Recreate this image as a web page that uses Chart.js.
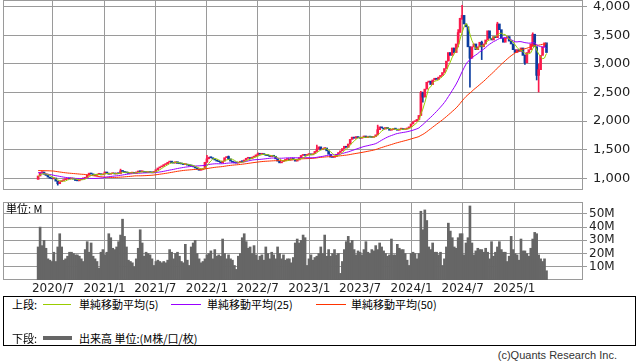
<!DOCTYPE html>
<html lang="ja">
<head>
<meta charset="utf-8">
<title>株価チャート</title>
<script src="https://cdn.jsdelivr.net/npm/chart.js@4.4.1/dist/chart.umd.min.js"></script>
<style>
  body { margin: 0; width: 638px; height: 362px; background: #fff; position: relative; overflow: hidden; font-family: "Noto Sans CJK JP", sans-serif; color: #000; }
  #price-wrap { position: absolute; left: 0; top: 0; width: 638px; height: 195px; }
  #volume-wrap { position: absolute; left: 0; top: 196px; width: 638px; height: 100px; }
  .unit { position: absolute; left: 6px; top: 202px; font-size: 11px; line-height: 12px; }
  .legend { position: absolute; left: 3px; top: 296px; width: 631px; height: 48px; border: 1px solid #000; font-size: 11px; }
  .legend span { position: absolute; line-height: 14px; white-space: nowrap; }
  .legend i { position: absolute; display: block; }
  .copy { position: absolute; right: 21px; top: 349px; font: 11px "Liberation Sans", sans-serif; color: #333; }
</style>
</head>
<body>
<div id="price-wrap"><canvas id="price-chart"></canvas></div>
<div id="volume-wrap"><canvas id="volume-chart"></canvas></div>
<div class="unit">単位: M</div>
<div class="legend">
  <span style="left:8px;top:0">上段:</span>
  <i style="left:39px;top:7px;width:28px;height:1px;background:#99cc00"></i>
  <span style="left:75px;top:0">単純移動平均(5)</span>
  <i style="left:167px;top:7px;width:30px;height:1px;background:#9900ff"></i>
  <span style="left:203px;top:0">単純移動平均(25)</span>
  <i style="left:312px;top:7px;width:30px;height:1px;background:#ff3300"></i>
  <span style="left:347px;top:0">単純移動平均(50)</span>
  <span style="left:8px;top:34px">下段:</span>
  <i style="left:39px;top:39px;width:29px;height:4px;background:#666"></i>
  <span style="left:75px;top:34px">出来高 単位:(M株/口/枚)</span>
</div>
<div class="copy">(c)Quants Research Inc.</div>

<script>
// weekly candles, index 0 = week of 2020/5/11
const tickLabels = ["2020/7", "2021/1", "2021/7", "2022/1", "2022/7", "2023/1", "2023/7", "2024/1", "2024/7", "2025/1"];
const priceTicks = [1000, 1500, 2000, 2500, 3000, 3500, 4000];
const volumeTicks = [10, 20, 30, 40, 50];

const firstOpen = 980;
const closes = [
    1040, 1100, 1110, 1070, 1050, 1020, 1000, 990, 1005, 950,
    905, 940, 960, 975, 985, 995, 990, 1000, 985, 960,
    955, 975, 990, 1000, 1010, 1060, 1090, 1075, 1060, 1050,
    1070, 1080, 1060, 1075, 1110, 1090, 1070, 1080, 1085, 1075,
    1090, 1080, 1130, 1120, 1100, 1095, 1085, 1090, 1100, 1085,
    1110, 1125, 1115, 1120, 1105, 1100, 1110, 1100, 1095, 1120,
    1150, 1180, 1200, 1210, 1240, 1250, 1280, 1300, 1270, 1265,
    1290, 1260, 1255, 1250, 1240, 1245, 1230, 1220, 1215, 1200,
    1180, 1160, 1140, 1150, 1170, 1280, 1340, 1370, 1360, 1340,
    1320, 1300, 1290, 1270, 1300, 1360, 1380, 1340, 1300, 1280,
    1270, 1265, 1280, 1295, 1290, 1320, 1350, 1360, 1345, 1370,
    1380, 1410, 1430, 1420, 1425, 1415, 1400, 1395, 1380, 1390,
    1385, 1340, 1300, 1270, 1290, 1310, 1330, 1340, 1320, 1345,
    1330, 1300, 1320, 1360, 1400, 1410, 1400, 1415, 1420, 1410,
    1430, 1470, 1510, 1550, 1500, 1520, 1530, 1480, 1420, 1370,
    1365, 1380, 1420, 1450, 1480, 1520, 1560, 1540, 1600, 1680,
    1720, 1700, 1730, 1710, 1700, 1720, 1740, 1710, 1730, 1720,
    1715, 1730, 1760, 1850, 1900, 1880, 1860, 1890, 1870, 1840,
    1850, 1870, 1860, 1840, 1860, 1870, 1850, 1860, 1880, 1900,
    1950, 1990, 2000, 2030, 2100, 2500, 2420, 2560, 2680, 2700,
    2640, 2720, 2750, 2730, 2770, 2800, 2850, 2920, 3050, 3200,
    3150, 3280, 3200, 3350, 3550, 3800, 3850, 3700, 3650, 3300,
    3100, 3300, 3350, 3250, 3300, 3380, 3300, 3350, 3420, 3580,
    3450, 3420, 3480, 3460, 3700, 3600, 3450, 3380, 3450, 3480,
    3400, 3350, 3250, 3200, 3250, 3220, 3280, 3150, 3020, 3200,
    3250, 3350, 3520, 3300, 2800, 2900, 3150, 3300, 3370, 3200
];

// long shadows only: [week, low, high]
const wicks = [
    [10, 880, 950], [42, 1100, 1160], [86, 1280, 1400], [97, 1330, 1390],
    [112, 1400, 1445], [142, 1470, 1580], [173, 1760, 1930], [195, 2100, 2520],
    [196, 2330, 2510], [214, 3300, 3600], [216, 3780, 4024], [220, 2596, 3300],
    [226, 3076, 3400], [234, 3460, 3730], [248, 2990, 3160], [252, 3310, 3545],
    [254, 2720, 3300], [255, 2510, 3000]
];

// volume, M shares
const volumes = [
    25, 40, 26, 30, 24, 16, 15, 14, 21, 14,
    25, 35, 25, 15, 16, 18, 21, 21, 20, 19,
    19, 18, 16, 14, 23, 29, 21, 28, 18, 16,
    14, 9, 21, 23, 19, 21, 35, 32, 24, 23,
    25, 29, 34, 46, 33, 25, 15, 14, 13, 10,
    16, 24, 38, 28, 18, 21, 20, 19, 16, 11,
    14, 15, 14, 13, 14, 13, 15, 23, 21, 16,
    20, 21, 18, 14, 13, 27, 15, 11, 25, 28,
    30, 20, 16, 13, 14, 16, 19, 20, 22, 16,
    23, 18, 19, 18, 31, 20, 16, 19, 16, 15,
    11, 8, 18, 20, 32, 35, 29, 24, 25, 20,
    26, 19, 15, 18, 19, 15, 25, 20, 16, 21,
    19, 16, 25, 20, 16, 19, 15, 16, 16, 13,
    17, 28, 31, 28, 30, 34, 32, 11, 16, 19,
    15, 17, 18, 20, 25, 20, 34, 18, 23, 18,
    20, 23, 19, 20, 5, 14, 23, 29, 33, 28,
    30, 23, 19, 22, 21, 19, 23, 29, 21, 20,
    23, 22, 26, 23, 28, 25, 22, 20, 18, 19,
    31, 19, 19, 27, 24, 23, 23, 20, 15, 11,
    20, 21, 20, 16, 20, 52, 38, 53, 45, 25,
    23, 28, 21, 21, 19, 21, 11, 16, 25, 43,
    37, 32, 25, 24, 32, 35, 35, 19, 28, 32,
    56, 28, 19, 22, 24, 23, 23, 21, 24, 21,
    16, 29, 18, 21, 25, 29, 23, 21, 21, 14,
    18, 33, 23, 20, 19, 15, 31, 22, 22, 20,
    18, 24, 31, 36, 35, 19, 16, 14, 16, 7
];

// averages before enough weeks are on the chart
const ma5Start = [1030, 1060, 1075, 1080];
const ma25Start = [1100, 1095, 1090, 1085, 1080, 1072, 1065, 1060, 1052, 1045, 1040, 1033,
    1027, 1020, 1015, 1010, 1005, 1002, 1000, 998, 997, 996, 996, 997];
const ma50Start = [1135, 1135, 1134, 1133, 1132, 1131, 1130, 1128, 1126, 1120, 1115, 1110,
    1105, 1100, 1096, 1092, 1089, 1086, 1083, 1080, 1077, 1074, 1071, 1069, 1066, 1060,
    1055, 1050, 1045, 1040, 1035, 1030, 1027, 1024, 1020, 1018, 1016, 1015, 1015, 1015,
    1016, 1018, 1020, 1022, 1025, 1028, 1031, 1034, 1037];

const UP = "#fb1a4c";
const DOWN = "#0b3ca0";
const GRID = "#9a9a9a";
const X_MIN = -17.9;
const X_MAX = 277.6;
const weekMs = 7 * 864e5;
const week0 = Date.UTC(2020, 4, 9);

Chart.defaults.font.family = "DejaVu Sans";
Chart.defaults.color = "#222";

const opens = closes.map((c, i) => i === 0 ? firstOpen : closes[i - 1]);

function movingAverage(values, period, head) {
    return values.map((v, i) => {
        if (i < period - 1) return head[i];
        let sum = 0;
        for (let k = i - period + 1; k <= i; k++) sum += values[k];
        return sum / period;
    });
}

// gridline positions at the first day of each labelled month
const monthTicks = tickLabels.map(t => {
    const [y, m] = t.split("/").map(Number);
    return (Date.UTC(y, m - 1, 1) - week0) / weekMs;
});

const frame = {
    id: "frame",
    beforeDatasetsDraw(chart) {
        const { ctx, chartArea: a } = chart;
        ctx.save();
        ctx.strokeStyle = GRID;
        ctx.lineWidth = 1;
        ctx.strokeRect(Math.round(a.left) + 0.5, Math.round(a.top) + 0.5,
            Math.round(a.right - a.left) - 1, Math.round(a.bottom - a.top) - 1);
        ctx.restore();
    }
};

// keep the plot area fixed, labels may hang over its edges
const noPadding = s => {
    s.paddingTop = 0;
    s.paddingBottom = 0;
    s.paddingLeft = 0;
    s.paddingRight = 0;
};

function xAxis(showLabels) {
    return {
        type: "linear",
        min: X_MIN,
        max: X_MAX,
        offset: false,
        afterBuildTicks: s => { s.ticks = monthTicks.map(v => ({ value: v })); },
        afterFit: s => {
            s.height = showLabels ? 16 : 0;
            noPadding(s);
        },
        ticks: {
            display: showLabels,
            autoSkip: false,
            maxRotation: 0,
            padding: 2,
            font: { size: 12 },
            callback: (v, i) => tickLabels[i]
        },
        grid: { color: GRID, drawTicks: false, offset: false },
        border: { display: false }
    };
}

const candleColor = c => {
    const i = c.dataIndex;
    return closes[i] >= opens[i] ? UP : DOWN;
};
const maLine = (label, data, color) => ({
    type: "line",
    label,
    data: data.map((y, x) => ({ x, y })),
    borderColor: color,
    borderWidth: 1,
    pointRadius: 0,
    tension: 0,
    order: 0
});

const priceChart = new Chart(document.getElementById("price-chart"), {
    type: "bar",
    data: {
        datasets: [
            maLine("単純移動平均(5)", movingAverage(closes, 5, ma5Start), "#99cc00"),
            maLine("単純移動平均(25)", movingAverage(closes, 25, ma25Start), "#9900ff"),
            maLine("単純移動平均(50)", movingAverage(closes, 50, ma50Start), "#ff3300"),
            {
                label: "body",
                data: closes.map((c, i) => ({ x: i, y: [opens[i], c] })),
                backgroundColor: candleColor,
                barThickness: 2,
                minBarLength: 1,
                grouped: false,
                order: 1
            },
            {
                label: "wick",
                data: wicks.map(w => ({ x: w[0], y: [w[1], w[2]] })),
                backgroundColor: c => {
                    const i = wicks[c.dataIndex][0];
                    return closes[i] >= opens[i] ? UP : DOWN;
                },
                barThickness: 1,
                grouped: false,
                order: 2
            }
        ]
    },
    options: {
        animation: false,
        responsive: true,
        maintainAspectRatio: false,
        layout: { padding: { left: 3, top: 0, right: 0, bottom: 5 } },
        plugins: { legend: { display: false }, tooltip: { enabled: false } },
        scales: {
            x: xAxis(false),
            y: {
                position: "right",
                min: 795,
                max: 4119,
                afterBuildTicks: s => { s.ticks = priceTicks.map(v => ({ value: v })); },
                afterFit: s => {
                    s.width = 55;
                    noPadding(s);
                },
                ticks: {
                    padding: 6,
                    font: { size: 13 },
                    callback: v => v.toLocaleString("en-US")
                },
                grid: { color: GRID, tickLength: 4 },
                border: { display: false }
            }
        }
    },
    plugins: [frame]
});

const volumeChart = new Chart(document.getElementById("volume-chart"), {
    type: "bar",
    data: {
        datasets: [{
            label: "出来高",
            data: volumes.map((v, i) => ({ x: i, y: v })),
            backgroundColor: "#666666",
            barThickness: 2
        }]
    },
    options: {
        animation: false,
        responsive: true,
        maintainAspectRatio: false,
        layout: { padding: { left: 3, top: 6, right: 0, bottom: 0 } },
        plugins: { legend: { display: false }, tooltip: { enabled: false } },
        scales: {
            x: xAxis(true),
            y: {
                position: "right",
                min: 0,
                max: 59,
                afterBuildTicks: s => { s.ticks = volumeTicks.map(v => ({ value: v })); },
                afterFit: s => {
                    s.width = 55;
                    noPadding(s);
                },
                ticks: {
                    padding: 2,
                    font: { size: 12 },
                    callback: v => v + "M"
                },
                grid: { color: GRID, tickLength: 4 },
                border: { display: false }
            }
        }
    },
    plugins: [frame]
});
</script>
</body>
</html>
